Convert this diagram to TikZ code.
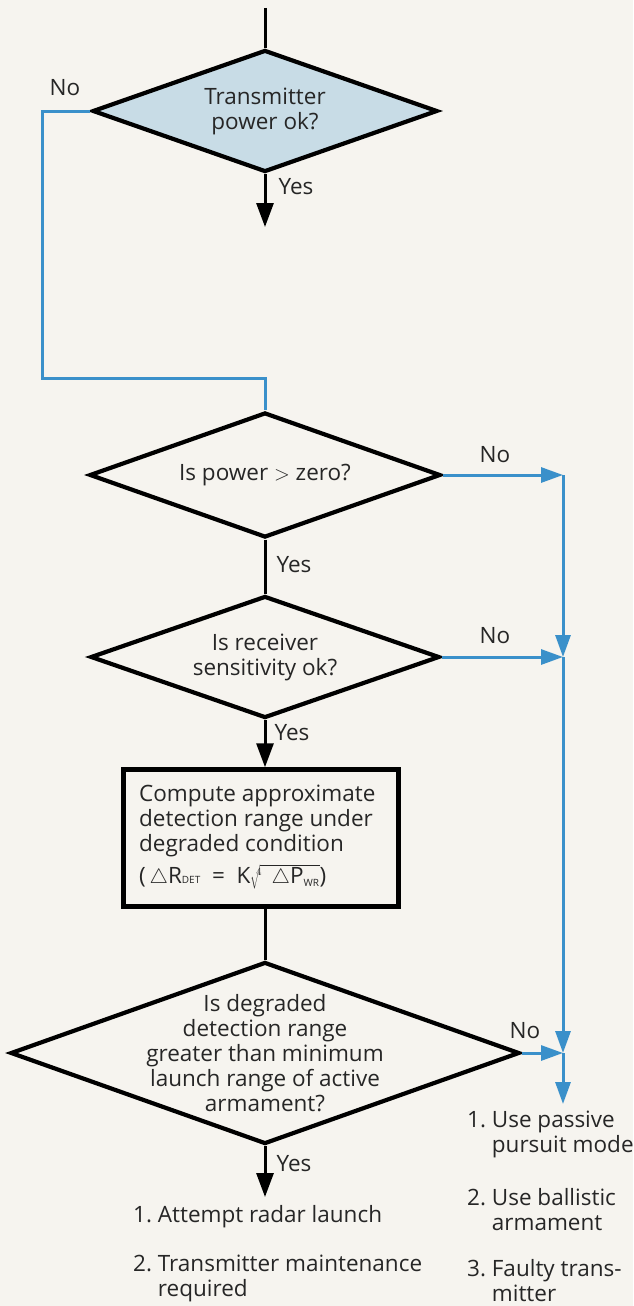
\documentclass[tikz,border=0pt]{standalone}
\usepackage{fontspec}
\setmainfont{Open Sans}
\usetikzlibrary{shapes.geometric,arrows.meta}
\definecolor{paper}{HTML}{F6F4EF}
\definecolor{flowblue}{HTML}{3A90CA}
\definecolor{dfill}{HTML}{C8DCE6}
\begin{document}
\begin{tikzpicture}[x=1pt,y=-1pt,
  every node/.style={font=\fontsize{22.5}{25}\selectfont, text=black!85},
  decision/.style={diamond, draw=black, line width=4.2pt, inner sep=0pt},
  dtext/.style={align=center, inner sep=0pt},
  procbox/.style={rectangle, draw=black, line width=4.5pt, inner sep=0pt},
  flow/.style={draw=black, line width=3pt},
  flowarrow/.style={flow, -{Triangle[length=24pt,width=17pt]}},
  noline/.style={draw=flowblue, line width=3pt},
  noarrow/.style={noline, -{Triangle[length=22pt,width=15pt]}},
  lbl/.style={inner sep=0pt},
  outtext/.style={anchor=north west, align=left, inner sep=0pt}]
\useasboundingbox (0,0) rectangle (633,1306);
\fill[paper] (0,0) rectangle (633,1306);

% decisions and box
\node[decision, fill=dfill, minimum width=345pt, minimum height=122pt] (d1) at (265,111) {};
\node[dtext] (d1t) at (d1.center) {Transmitter\\power ok?};
\node[decision, minimum width=351pt, minimum height=125pt] (d2) at (265,475) {};
\node[dtext] (d2t) at (d2.center) {Is power $>$ zero?};
\node[decision, minimum width=349pt, minimum height=122pt] (d3) at (265,657) {};
\node[dtext] (d3t) at (d3.center) {Is receiver\\sensitivity ok?};
\node[procbox, minimum width=275pt, minimum height=137pt] (box) at (261,838) {};
\node[align=left, inner sep=0pt, anchor=west] (boxt) at (139,837)
  {Compute approximate\\detection range under\\degraded condition\\[7pt]
   (\,$\triangle$R{\fontsize{10}{10}\selectfont\rmfamily DET}\ \ =\ \ K$\sqrt[4]{\;\;\triangle\mbox{P}_{\mbox{\fontsize{10}{10}\selectfont\rmfamily WR}}}$)};
\node[decision, minimum width=509pt, minimum height=182pt] (d4) at (265,1053) {};
\node[dtext] (d4t) at (d4.center)
  {Is degraded\\detection range\\greater than minimum\\launch range of active\\armament?};

% free ends and junctions
\coordinate (start) at (265,8);
\coordinate (y1) at (265,227);
\coordinate (y4) at (265,1197);
\coordinate (l1) at (42,111);
\coordinate (l2) at (42,378);
\coordinate (l3) at (265,378);
\coordinate (j1) at (563,475);
\coordinate (j2) at (563,657);
\coordinate (j3) at (563,1053);
\coordinate (jend) at (563,1104);

% black connectors
\draw[flow] (start) -- (d1.north);
\draw[flowarrow] (d1.south) -- (y1);
\draw[flow] (d2.south) -- (d3.north);
\draw[flowarrow] (d3.south) -- (d3.south |- box.north);
\draw[flow] (box.south -| d4.north) -- (d4.north);
\draw[flowarrow] (d4.south) -- (y4);

% blue connectors
\draw[noline] (d1.west) -- (l1) -- (l2) -- (l3) -- (d2.north);
\draw[noarrow] (d2.east) -- (j1);
\draw[noarrow] (d3.east) -- (j2);
\draw[noarrow] (d4.east) -- (j3);
\draw[noarrow] (j1) -- (j2);
\draw[noarrow] (j2) -- (j3);
\draw[noarrow] (j3) -- (jend);

% labels
\node[lbl] (no1) at (65,88) {No};
\node[lbl] (yes1) at (296,187) {Yes};
\node[lbl] (no2) at (495,455) {No};
\node[lbl] (yes2) at (294,565) {Yes};
\node[lbl] (no3) at (495,636) {No};
\node[lbl] (yes3) at (292,733) {Yes};
\node[lbl] (no4) at (525,1031) {No};
\node[lbl] (yes4) at (294,1164) {Yes};

% outcomes
\node[outtext] (a1) at (133,1205) {1.\ Attempt radar launch};
\node[outtext] (a2) at (133,1255) {2.\ Transmitter maintenance\\\hphantom{2.\ }required};
\node[outtext] (b1) at (467,1111) {1.\ Use passive\\\hphantom{1.\ }pursuit mode};
\node[outtext] (b2) at (467,1188) {2.\ Use ballistic\\\hphantom{2.\ }armament};
\node[outtext] (b3) at (467,1259) {3.\ Faulty trans-\\\hphantom{3.\ }mitter};
\end{tikzpicture}
\end{document}
